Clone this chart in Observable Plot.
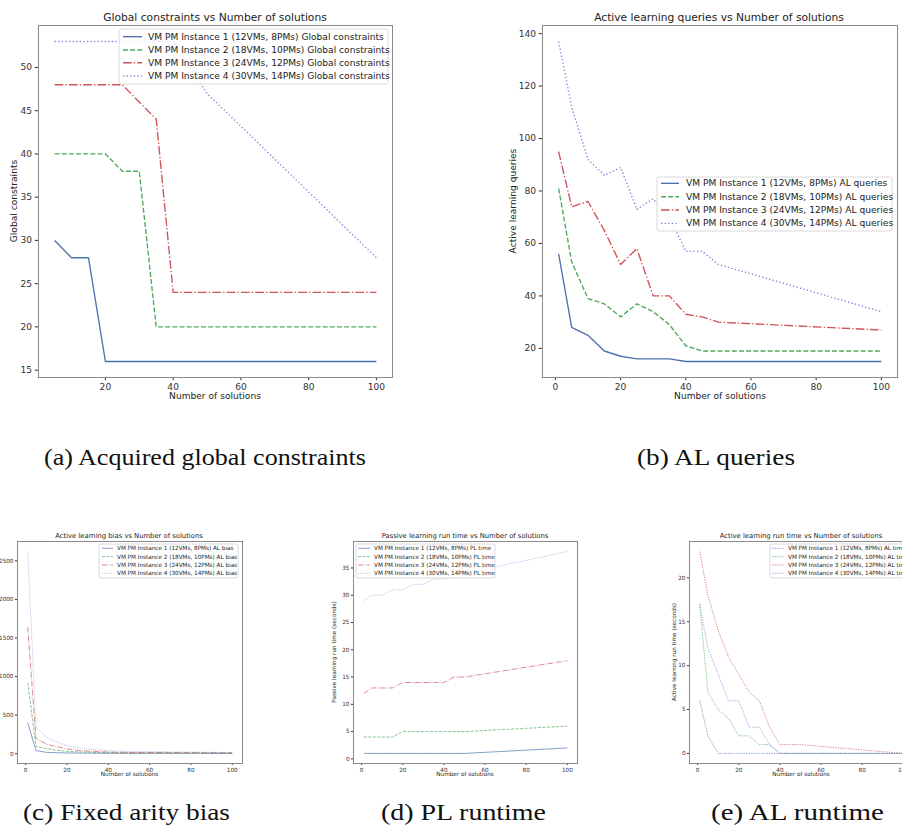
<!DOCTYPE html>
<html><head><meta charset="utf-8">
<script src="https://cdn.jsdelivr.net/npm/d3@7"></script>
<script src="https://cdn.jsdelivr.net/npm/@observablehq/plot@0.6"></script>
<style>
html,body{margin:0;padding:0;background:#fff;}
#root{position:relative;width:902px;height:836px;overflow:hidden;background:#fff;}
.sub{position:absolute;overflow:visible;}
.sub svg{max-width:none !important;}
</style></head><body><div id="root"></div>
<script>
// ---------------- data ----------------
const instances = [
  "VM PM Instance 1 (12VMs, 8PMs)",
  "VM PM Instance 2 (18VMs, 10PMs)",
  "VM PM Instance 3 (24VMs, 12PMs)",
  "VM PM Instance 4 (30VMs, 14PMs)"
];
// (a) Acquired global constraints
const solutionsA = [5, 10, 15, 20, 25, 30, 35, 40, 45, 50, 100];
const globalC1 = [30, 28, 28, 16, 16, 16, 16, 16, 16, 16, 16];
const globalC2 = [40, 40, 40, 40, 38, 38, 20, 20, 20, 20, 20];
const globalC3 = [48, 48, 48, 48, 48, 46, 44, 24, 24, 24, 24];
const globalC4 = [53, 53, 53, 53, 53, 53, 53, 53, 50, 47, 28];
// (b)-(e) share these solution counts
const solutions = [1, 5, 10, 15, 20, 25, 30, 35, 40, 45, 50, 100];
// (b) AL queries
const alQueries1 = [56, 28, 25, 19, 17, 16, 16, 16, 15, 15, 15, 15];
const alQueries2 = [81, 53, 39, 37, 32, 37, 34, 29, 21, 19, 19, 19];
const alQueries3 = [95, 74, 76, 65, 52, 58, 40, 40, 33, 32, 30, 27];
const alQueries4 = [137, 112, 92, 86, 89, 73, 77, 70, 57, 57, 52, 34];
// (c) AL bias
const alBias1 = [400, 40, 18, 13, 10, 8, 7, 6, 5, 5, 5, 4];
const alBias2 = [920, 95, 65, 45, 32, 25, 20, 16, 14, 12, 11, 8];
const alBias3 = [1640, 195, 125, 90, 62, 45, 35, 28, 22, 19, 17, 12];
const alBias4 = [2620, 345, 215, 150, 105, 80, 62, 50, 40, 34, 30, 15];
// (d) PL run time (seconds)
const plTime1 = [1, 1, 1, 1, 1, 1, 1, 1, 1, 1, 1, 2];
const plTime2 = [4, 4, 4, 4, 5, 5, 5, 5, 5, 5, 5, 6];
const plTime3 = [12, 13, 13, 13, 14, 14, 14, 14, 14, 15, 15, 18];
const plTime4 = [29, 30, 30, 31, 31, 32, 32, 33, 33, 34, 34, 38];
// (e) AL run time (seconds)
const alTime1 = [6, 2, 0, 0, 0, 0, 0, 0, 0, 0, 0, 0];
const alTime2 = [17, 7, 5, 4, 2, 2, 1, 1, 0, 0, 0, 0];
const alTime3 = [23, 18, 14, 11, 9, 7, 6, 3, 1, 1, 1, 0];
const alTime4 = [17, 12, 9, 6, 6, 3, 3, 1, 0, 0, 0, 0];
// tick labels
const xTicksA = [20, 40, 60, 80, 100];
const xTicks = [0, 20, 40, 60, 80, 100];
const yTicksA = [15, 20, 25, 30, 35, 40, 45, 50];
const yTicksB = [20, 40, 60, 80, 100, 120, 140];
const yTicksC = [0, 500, 1000, 1500, 2000, 2500];
const yTicksD = [0, 5, 10, 15, 20, 25, 30, 35];
const yTicksE = [0, 5, 10, 15, 20];

// ---------------- style ----------------
const COLORS = ["#4c72b0", "#4fa95c", "#cf5256", "#8584dc"];
const FONT = "DejaVu Sans";
function dashes(lw, allDotted) {
  if (allDotted) return [0,1,2,3].map(() => `${1.6*lw},${1.4*lw}`);
  return [undefined, `${3.7*lw},${1.6*lw}`, `${6.4*lw},${1.6*lw},${1*lw},${1.6*lw}`, `${1*lw},${1.65*lw}`];
}
function pad(vals) {
  const lo = d3.min(vals), hi = d3.max(vals), r = hi - lo;
  return [lo - 0.05*r, hi + 0.05*r];
}

const root = document.getElementById("root");

function panel(p) {
  const fr = p.frame;
  const dash = dashes(p.lw, p.allDotted);
  const allY = p.series.flat();
  const marks = p.series.map((ys, i) =>
    Plot.line(p.xs.map((x, j) => ({x, y: ys[j]})), {
      x: "x", y: "y", stroke: COLORS[i], strokeWidth: p.lw,
      strokeDasharray: dash[i], strokeOpacity: p.opacity,
      strokeLinejoin: "round", strokeLinecap: "butt"
    }));
  marks.push(Plot.frame({stroke: "#8a8a8a", strokeWidth: 1}));
  const svg = Plot.plot({
    width: p.w, height: p.h,
    marginLeft: fr.l - p.left, marginTop: fr.t - p.top,
    marginRight: p.left + p.w - fr.r, marginBottom: p.top + p.h - fr.b,
    style: {fontFamily: FONT, fontSize: p.fs + "px", color: "#333", background: "transparent", overflow: "visible", maxWidth: "none"},
    x: {domain: pad(p.xs), ticks: p.xTicks, tickFormat: "d", tickSize: p.tick, tickPadding: p.tick, label: null},
    y: {domain: pad(allY), ticks: p.yTicks, tickFormat: "d", tickSize: p.tick, tickPadding: p.tick, label: null},
    marks
  });
  svg.style.maxWidth = "none";
  svg.setAttribute("width", p.w);
  const s = d3.select(svg);
  const X = v => v - p.left, Y = v => v - p.top;
  s.append("text").attr("x", X(p.titleX)).attr("y", Y(p.titleY)).attr("dy", "0.35em")
    .attr("text-anchor", "middle").attr("font-size", p.tfs).attr("fill", "#222").text(p.title);
  s.append("text").attr("x", X(p.xlabX)).attr("y", Y(p.xlabY)).attr("dy", "0.35em")
    .attr("text-anchor", "middle").attr("font-size", p.fs).attr("fill", "#222").text("Number of solutions");
  if (p.ylab) {
    s.append("text").attr("transform", `translate(${X(p.ylabX)},${Y(p.ylabY)}) rotate(-90)`).attr("dy", "0.35em")
      .attr("text-anchor", "middle").attr("font-size", p.fs).attr("fill", "#222").text(p.ylab);
  }
  const L = p.legend;
  const g = s.append("g").attr("text-anchor", "start");
  g.append("rect").attr("x", X(L.x0)).attr("y", Y(L.y0)).attr("width", L.x1 - L.x0).attr("height", L.y1 - L.y0)
    .attr("rx", 2).attr("fill", "white").attr("fill-opacity", 0.8).attr("stroke", "#d0d0d0").attr("stroke-width", 0.8);
  L.rows.forEach((ry, i) => {
    g.append("line").attr("x1", X(L.s0)).attr("x2", X(L.s1)).attr("y1", Y(ry)).attr("y2", Y(ry))
      .attr("stroke", COLORS[i]).attr("stroke-width", p.lw).attr("stroke-opacity", p.opacity)
      .attr("stroke-dasharray", dash[i] || null);
    g.append("text").attr("x", X(L.tx)).attr("y", Y(ry)).attr("dy", "0.35em").attr("text-anchor", "start")
      .attr("font-size", p.fs).attr("fill", "#222").text(instances[i] + " " + p.suffix);
  });
  const div = document.createElement("div");
  div.className = "sub";
  div.style.left = p.left + "px"; div.style.top = p.top + "px";
  div.style.width = p.w + "px"; div.style.height = p.h + "px";
  div.appendChild(svg);
  root.appendChild(div);
}

const smallRows = [548.3, 556.7, 565, 573.3];

panel({left: 0, top: 0, w: 450, h: 410, frame: {l: 38, t: 25, r: 392, b: 377},
  xs: solutionsA, series: [globalC1, globalC2, globalC3, globalC4], xTicks: xTicksA, yTicks: yTicksA,
  fs: 9.1, tfs: 10.7, tick: 3.2, lw: 1.35, opacity: 1,
  title: "Global constraints vs Number of solutions", titleX: 215, titleY: 17,
  xlabX: 215, xlabY: 396, ylab: "Global constraints", ylabX: 14, ylabY: 201,
  suffix: "Global constraints",
  legend: {x0: 119, x1: 388, y0: 29, y1: 84, rows: [36.7, 50, 62.7, 76], s0: 123, s1: 142, tx: 148}});

panel({left: 450, top: 0, w: 452, h: 410, frame: {l: 542, t: 25, r: 897, b: 377},
  xs: solutions, series: [alQueries1, alQueries2, alQueries3, alQueries4], xTicks, yTicks: yTicksB,
  fs: 9.1, tfs: 10.7, tick: 3.2, lw: 1.35, opacity: 1,
  title: "Active learning queries vs Number of solutions", titleX: 719, titleY: 17,
  xlabX: 720, xlabY: 396, ylab: "Active learning queries", ylabX: 513, ylabY: 201,
  suffix: "AL queries",
  legend: {x0: 657, x1: 892, y0: 177, y1: 231, rows: [183.3, 196.7, 210, 223.3], s0: 661, s1: 679, tx: 686}});

panel({left: -60, top: 520, w: 320, h: 270, frame: {l: 17, t: 541, r: 242, b: 763},
  xs: solutions, series: [alBias1, alBias2, alBias3, alBias4], xTicks, yTicks: yTicksC,
  fs: 5.7, tfs: 6.8, tick: 2, lw: 0.85, opacity: 0.8,
  title: "Active learning bias vs Number of solutions", titleX: 129, titleY: 536,
  xlabX: 129.5, xlabY: 774, ylab: null,
  suffix: "AL bias",
  legend: {x0: 99, x1: 238, y0: 544, y1: 578, rows: smallRows, s0: 102, s1: 113, tx: 117}});

panel({left: 300, top: 520, w: 300, h: 270, frame: {l: 353, t: 541, r: 577, b: 763},
  xs: solutions, series: [plTime1, plTime2, plTime3, plTime4], xTicks, yTicks: yTicksD,
  fs: 5.7, tfs: 6.8, tick: 2, lw: 0.85, opacity: 0.8,
  title: "Passive learning run time vs Number of solutions", titleX: 465, titleY: 536,
  xlabX: 465, xlabY: 774, ylab: "Passive learning run time (seconds)", ylabX: 334, ylabY: 652,
  suffix: "PL time",
  legend: {x0: 356, x1: 495, y0: 544, y1: 578, rows: smallRows, s0: 358, s1: 370, tx: 374}});

panel({left: 600, top: 520, w: 340, h: 270, frame: {l: 689, t: 541, r: 913, b: 763},
  xs: solutions, series: [alTime1, alTime2, alTime3, alTime4], xTicks, yTicks: yTicksE,
  fs: 5.7, tfs: 6.8, tick: 2, lw: 0.85, opacity: 0.8, allDotted: true,
  title: "Active learning run time vs Number of solutions", titleX: 801, titleY: 536,
  xlabX: 801, xlabY: 774, ylab: "Active learning run time (seconds)", ylabX: 674, ylabY: 652,
  suffix: "AL time",
  legend: {x0: 770, x1: 909, y0: 544, y1: 578, rows: smallRows, s0: 772, s1: 784, tx: 788}});

// ---------------- captions ----------------
const captions = [
  {text: "(a) Acquired global constraints", x0: 44, x1: 366, y: 465},
  {text: "(b) AL queries", x0: 637, x1: 795, y: 465},
  {text: "(c) Fixed arity bias", x0: 23, x1: 230, y: 820},
  {text: "(d) PL runtime", x0: 381, x1: 546, y: 820},
  {text: "(e) AL runtime", x0: 711, x1: 884, y: 820}
];
const cap = d3.select(root).append("svg").attr("class", "sub").attr("width", 902).attr("height", 836)
  .style("left", "0px").style("top", "0px").style("pointer-events", "none");
captions.forEach(c => {
  cap.append("text").attr("x", c.x0).attr("y", c.y).attr("font-family", "Liberation Serif")
    .attr("font-size", 23).attr("fill", "#111")
    .attr("textLength", c.x1 - c.x0).attr("lengthAdjust", "spacingAndGlyphs").text(c.text);
});
</script></body></html>
